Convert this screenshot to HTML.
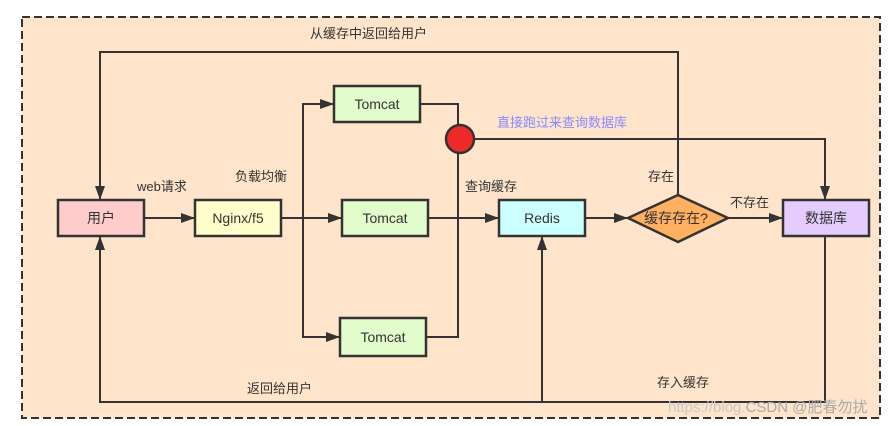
<!DOCTYPE html>
<html><head><meta charset="utf-8"><style>
html,body{margin:0;padding:0;background:#fff;}
svg{display:block;}
text{font-family:"Liberation Sans","Noto Sans CJK SC",sans-serif;font-size:13px;fill:#333;}
</style></head><body>
<svg width="895" height="426" viewBox="0 0 895 426" xmlns="http://www.w3.org/2000/svg">
<defs><marker id="a" markerWidth="14" markerHeight="10" refX="13" refY="5" orient="auto" markerUnits="userSpaceOnUse"><path d="M0,0 L14,5 L0,10 z" fill="#333"/></marker></defs>
<rect x="22" y="17" width="858" height="401" fill="#fee4ca" stroke="#333" stroke-width="2" stroke-dasharray="8,4"/>
<g fill="none" stroke="#333" stroke-width="2">
<polyline points="678,195 678,52 100,52 100,199" marker-end="url(#a)"/>
<line x1="144" y1="218" x2="194" y2="218" marker-end="url(#a)"/>
<line x1="281" y1="218" x2="341" y2="218" marker-end="url(#a)"/>
<polyline points="303,218 303,104 333,104" marker-end="url(#a)"/>
<polyline points="303,218 303,337 339,337" marker-end="url(#a)"/>
<polyline points="420,104 458,104 458,125"/>
<polyline points="426,337 458,337 458,153"/>
<line x1="428" y1="218" x2="498" y2="218" marker-end="url(#a)"/>
<polyline points="474,139 825,139 825,199" marker-end="url(#a)"/>
<line x1="585" y1="218" x2="627" y2="218" marker-end="url(#a)"/>
<line x1="728" y1="218" x2="782" y2="218" marker-end="url(#a)"/>
<polyline points="825,236 825,402 100,402 100,237" marker-end="url(#a)"/>
<polyline points="542,402 542,237" marker-end="url(#a)"/>
</g>
<g stroke="#333" stroke-width="2.5">
<rect x="58" y="200" width="86" height="36" fill="#ffcccc"/>
<rect x="195" y="200" width="86" height="36" fill="#ffffcc"/>
<rect x="334" y="86" width="86" height="36" fill="#e3fccc"/>
<rect x="342" y="200" width="86" height="36" fill="#e3fccc"/>
<rect x="340" y="318" width="86" height="38" fill="#e3fccc"/>
<rect x="499" y="200" width="86" height="36" fill="#ccffff"/>
<polygon points="628,218 678,195 728,218 678,242" fill="#ffb061"/>
<rect x="783" y="200" width="86" height="36" fill="#e5ccff"/>
<circle cx="460" cy="139" r="14" fill="#ee2a2a"/>
</g>
<g text-anchor="middle">
<text x="101" y="223" style="font-size:14px">用户</text>
<text x="238" y="223" style="font-size:14px">Nginx/f5</text>
<text x="377" y="109" style="font-size:14px">Tomcat</text>
<text x="385" y="223" style="font-size:14px">Tomcat</text>
<text x="383" y="342" style="font-size:14px">Tomcat</text>
<text x="542" y="223" style="font-size:14px">Redis</text>
<text x="676" y="223" style="font-size:14px">缓存存在?</text>
<text x="826" y="223" style="font-size:14px">数据库</text>
</g>
<text x="310" y="38">从缓存中返回给用户</text>
<text x="137" y="191">web请求</text>
<text x="235" y="181">负载均衡</text>
<text x="497" y="127" style="fill:#8a8aff">直接跑过来查询数据库</text>
<text x="465" y="191">查询缓存</text>
<text x="648" y="181">存在</text>
<text x="730" y="207">不存在</text>
<text x="247" y="393">返回给用户</text>
<text x="657" y="387">存入缓存</text>
<text x="668" y="412" style="fill:#c8c8c8;font-size:15px">https://blog.<tspan style="fill:#aaa">CSDN @肥春勿扰</tspan></text>
</svg>
</body></html>
